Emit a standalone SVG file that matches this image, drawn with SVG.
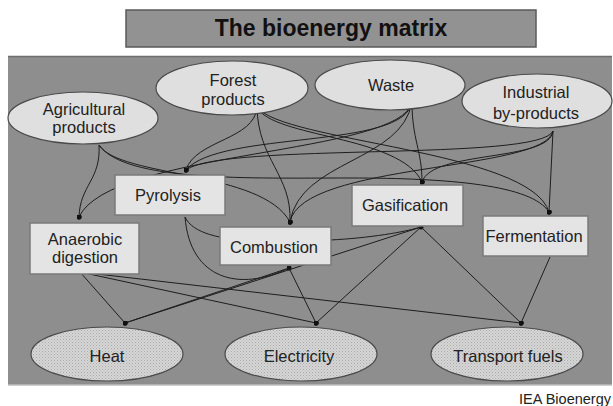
<svg xmlns="http://www.w3.org/2000/svg" width="613" height="406" viewBox="0 0 613 406">
<defs>
<pattern id="hatch" width="3" height="3" patternUnits="userSpaceOnUse">
<rect width="3" height="3" fill="#d6d6d6"/>
<rect x="0" y="0" width="1" height="1" fill="#ababab"/>
<rect x="1.5" y="1.5" width="1" height="1" fill="#b4b4b4"/>
</pattern>
<marker id="dot" viewBox="0 0 6 6" refX="3" refY="3" markerWidth="5" markerHeight="5" markerUnits="userSpaceOnUse">
<circle cx="3" cy="3" r="3" fill="#111"/>
</marker>
</defs>
<style>
.src{fill:#dfdfdf;stroke:#4a4a4a;stroke-width:1.2}
.out{fill:url(#hatch);stroke:#4a4a4a;stroke-width:1.2}
.box{fill:#e4e4e4;stroke:#7a7a7a;stroke-width:1.5}
.t{font-family:"Liberation Sans",Arial,sans-serif;font-size:16.5px;fill:#222;text-anchor:middle}
.c2{fill:none;stroke:#1e1e1e;stroke-width:1;marker-end:url(#dot)}
</style>
<rect x="0" y="0" width="613" height="406" fill="#ffffff"/>
<g id="title">
<rect x="126" y="10" width="410" height="37" fill="#929292" stroke="#5a5a5a" stroke-width="1.5"/>
<text x="331" y="36" font-family="Liberation Sans,Arial,sans-serif" font-size="23" font-weight="bold" fill="#111" text-anchor="middle">The bioenergy matrix</text>
</g>
<g id="panel">
<rect x="8" y="56" width="604" height="329" fill="#8e8e8e"/>
<line x1="8" y1="56.5" x2="612" y2="56.5" stroke="#6e6e6e" stroke-width="1.5"/>
<line x1="8" y1="385" x2="612" y2="385" stroke="#bdbdbd" stroke-width="1.5"/>
</g>
<g id="connectors">
<path class="c2" d="M99,145 C101,180 80,185 79,217"/>
<path class="c2" d="M99,145 C120,178 262,170 290,222"/>
<path class="c2" d="M99,145 C125,182 250,178 350,178 C450,178 532,185 549,212"/>
<path class="c2" d="M257,107 C255,140 195,140 186,170"/>
<path class="c2" d="M257,107 C258,160 292,175 290,222"/>
<path class="c2" d="M257,107 C272,138 400,135 422,182"/>
<path class="c2" d="M257,107 C282,142 530,150 549,212"/>
<path class="c2" d="M412,102 C412,140 422,150 422,182"/>
<path class="c2" d="M412,102 C405,150 220,130 186,170"/>
<path class="c2" d="M412,102 C402,162 300,160 290,222"/>
<path class="c2" d="M412,102 C402,155 110,150 79,217"/>
<path class="c2" d="M553,131 L549,212"/>
<path class="c2" d="M553,131 C550,162 432,150 422,182"/>
<path class="c2" d="M553,131 C545,172 302,162 290,222"/>
<path class="c2" d="M553,131 C540,162 222,142 186,170"/>
<path class="c2" d="M185,217 C190,280 240,292 289,268"/>
<path class="c2" d="M185,217 C200,250 300,240 330,240 C370,238 405,232 421,227"/>
<path class="c2" d="M80,272 L125,323"/>
<path class="c2" d="M80,272 L316,323"/>
<path class="c2" d="M80,272 L521,323"/>
<path class="c2" d="M289,268 L125,323"/>
<path class="c2" d="M289,268 L316,323"/>
<path class="c2" d="M421,227 L125,323"/>
<path class="c2" d="M421,227 L316,323"/>
<path class="c2" d="M421,227 L521,323"/>
<path class="c2" d="M550,257 L521,323"/>
</g>
<g id="agricultural"><ellipse class="src" cx="83" cy="118" rx="75" ry="26"/><text class="t" x="84" y="115">Agricultural</text><text class="t" x="84" y="133">products</text></g>
<g id="forest"><ellipse class="src" cx="232" cy="88" rx="76" ry="27"/><text class="t" x="233" y="86">Forest</text><text class="t" x="233" y="105">products</text></g>
<g id="waste"><ellipse class="src" cx="390" cy="85" rx="75" ry="25"/><text class="t" x="391" y="91">Waste</text></g>
<g id="industrial"><ellipse class="src" cx="537" cy="101" rx="75" ry="27"/><text class="t" x="536" y="98">Industrial</text><text class="t" x="536" y="119">by-products</text></g>
<g id="pyrolysis"><rect class="box" x="115" y="175" width="110" height="40"/><text class="t" x="168" y="201">Pyrolysis</text></g>
<g id="anaerobic"><rect class="box" x="30" y="223" width="109" height="51"/><text class="t" x="85" y="245">Anaerobic</text><text class="t" x="85" y="263">digestion</text></g>
<g id="combustion"><rect class="box" x="220" y="227" width="111" height="38"/><text class="t" x="274" y="253">Combustion</text></g>
<g id="gasification"><rect class="box" x="352" y="185" width="111" height="41"/><text class="t" x="405" y="211">Gasification</text></g>
<g id="fermentation"><rect class="box" x="483" y="216" width="105" height="40"/><text class="t" x="534" y="242">Fermentation</text></g>
<g id="heat"><ellipse class="out" cx="107" cy="354" rx="76" ry="27"/><text class="t" x="107" y="362">Heat</text></g>
<g id="electricity"><ellipse class="out" cx="301" cy="354" rx="76" ry="27"/><text class="t" x="299" y="362">Electricity</text></g>
<g id="transport"><ellipse class="out" cx="507" cy="354" rx="76" ry="27"/><text class="t" x="508" y="362">Transport fuels</text></g>
<text x="611" y="404" font-family="Liberation Sans,Arial,sans-serif" font-size="14.5" fill="#222" text-anchor="end">IEA Bioenergy</text>
</svg>
